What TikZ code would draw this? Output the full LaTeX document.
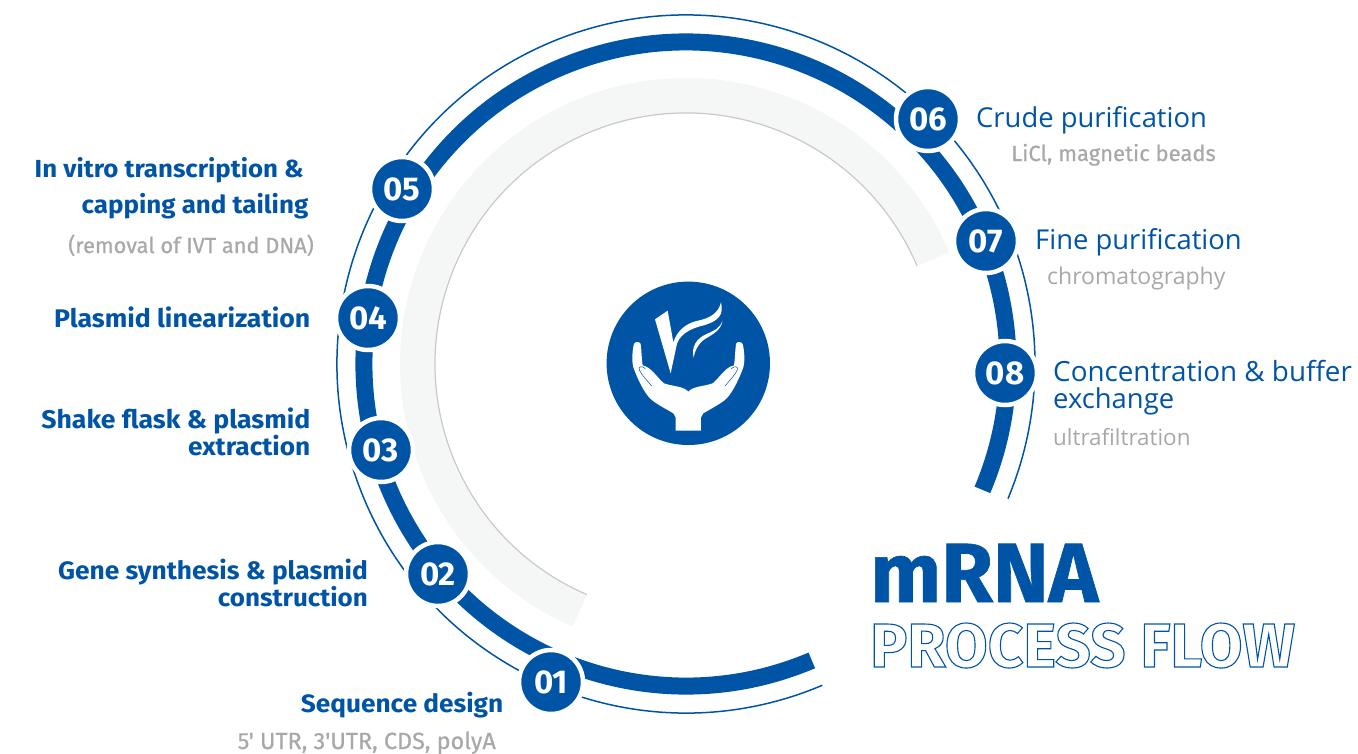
\documentclass[tikz,border=0pt]{standalone}
\usepackage{fontspec}
\setmainfont{Fira Sans}
\newfontfamily\dinf{Fira Sans}
\newfontfamily\dinwide{Fira Sans}[FakeStretch=1.045]
\newfontfamily\dinmute{Fira Sans}[FakeBold=0.6]
\newfontfamily\dinheavy{Fira Sans}[FakeBold=0.8]
\newfontfamily\segf{Open Sans}
\definecolor{brand}{HTML}{0054A6}
\definecolor{mutetext}{HTML}{A8A8A8}
\definecolor{band}{HTML}{F5F7F6}
\definecolor{bandline}{HTML}{C9C9C9}
\newcommand{\boldsz}[1]{\dinwide\bfseries\fontsize{#1}{27}\selectfont}
\newcommand{\mutesz}[1]{\dinmute\fontsize{#1}{27}\selectfont}
\newcommand{\lightsz}[1]{\segf\fontsize{#1}{27}\selectfont}
\tikzset{
  x=1pt,y=-1pt,
  badge/.style={circle,fill=brand,draw=white,line width=4.5pt,minimum size=64pt,inner sep=0pt,text=white,font=\dinf\bfseries\fontsize{33}{33}\selectfont},
  boldlabel/.style={anchor=base east,text=brand,inner sep=0pt,font=\boldsz{25.5}},
  mutelabel/.style={anchor=base east,inner sep=0pt,text=mutetext,font=\mutesz{22}},
  lightlabel/.style={anchor=base west,inner sep=0pt,text=brand,font=\lightsz{27.4}},
  mutelight/.style={anchor=base west,inner sep=0pt,text=mutetext,font=\lightsz{23}},
}
\begin{document}
\begin{tikzpicture}
\useasboundingbox (0,0) rectangle (1358,753);
\coordinate (c) at (686,364);
% grey band
\draw[band,line width=35pt] ([shift={(113.3:268.5)}]c) arc (113.3:337:268.5);
\draw[bandline,line width=1.2pt] ([shift={(113.3:251)}]c) arc (113.3:337:251);
% rings
\draw[brand,line width=1.5pt] ([shift={(67:349)}]c) arc (67:382.7:349);
\draw[brand,line width=17pt] ([shift={(67:322)}]c) arc (67:383:322);
% badges
\node[badge] (n1) at (551,682) {01};
\node[badge] (n2) at (438,574) {02};
\node[badge] (n3) at (381,450) {03};
\node[badge] (n4) at (368,318) {04};
\node[badge] (n5) at (402,189) {05};
\node[badge] (n6) at (928,119) {06};
\node[badge] (n7) at (986,241) {07};
\node[badge] (n8) at (1005,373) {08};
% logo
\fill[brand] (688.3,363.3) circle (81.7);
\begin{scope}[shift={(590,280)},x=0.3333pt,y=-0.3333pt]
\fill[white] (195,118) -- (233,92) -- (250,187)
  .. controls (262,150) and (290,130) .. (320,123)
  .. controls (360,115) and (385,100) .. (393,67)
  .. controls (402,105) and (385,122) .. (345,135)
  .. controls (300,145) and (262,165) .. (258,205)
  -- (242,280) -- cycle;
\fill[white] (397,122)
  .. controls (395,150) and (365,165) .. (345,177)
  .. controls (325,190) and (315,210) .. (311,233)
  .. controls (303,200) and (320,175) .. (350,162)
  .. controls (375,150) and (390,145) .. (397,122) -- cycle;
\fill[white] (257,452) -- (257,412) -- (250,400)
  .. controls (225,385) and (195,370) .. (180,355)
  .. controls (160,335) and (140,290) .. (130,262)
  .. controls (124,240) and (128,205) .. (132,192)
  .. controls (135,184) and (150,184) .. (152,192)
  .. controls (155,215) and (155,240) .. (158,256)
  .. controls (185,262) and (200,292) .. (222,310)
  .. controls (250,320) and (280,318) .. (295,335)
  .. controls (310,318) and (340,320) .. (368,310)
  .. controls (390,292) and (405,262) .. (432,256)
  .. controls (435,240) and (435,215) .. (438,192)
  .. controls (440,184) and (455,184) .. (458,192)
  .. controls (462,205) and (466,240) .. (460,262)
  .. controls (450,290) and (430,335) .. (410,355)
  .. controls (395,370) and (365,385) .. (340,400)
  -- (333,412) -- (333,452) -- cycle;
\draw[brand,line width=0.5pt] (185,318) .. controls (170,300) and (155,285) .. (148,270) .. controls (144,260) and (155,256) .. (166,266);
\draw[brand,line width=0.5pt] (405,318) .. controls (420,300) and (435,285) .. (442,270) .. controls (446,260) and (435,256) .. (424,266);
\end{scope}
% left labels
\node[boldlabel,font=\boldsz{24.7}] (l5a) at (304,177) {In vitro transcription \&};
\node[boldlabel,font=\boldsz{24.85}] (l5b) at (308.5,213) {capping and tailing};
\node[mutelabel,font=\mutesz{21.8}] (l5c) at (314,253) {(removal of IVT and DNA)};
\node[boldlabel] (l4) at (310.5,327) {Plasmid linearization};
\node[boldlabel] (l3a) at (310.5,428) {Shake flask \& plasmid};
\node[boldlabel,font=\boldsz{25.1}] (l3b) at (310.5,455) {extraction};
\node[boldlabel,font=\boldsz{25.2}] (l2a) at (368,579) {Gene synthesis \& plasmid};
\node[boldlabel,font=\boldsz{24.85}] (l2b) at (368,606) {construction};
\node[boldlabel,font=\boldsz{25.1}] (l1) at (503.5,712) {Sequence design};
\node[mutelabel,font=\mutesz{23.4}] (l1b) at (496,749) {5' UTR, 3'UTR, CDS, polyA};
% right labels
\node[lightlabel] (r6) at (976,127) {Crude purification};
\node[mutelabel] (r6b) at (1216,161) {LiCl, magnetic beads};
\node[lightlabel] (r7) at (1035,249) {Fine purification};
\node[mutelight] (r7b) at (1047,284) {chromatography};
\node[lightlabel,font=\lightsz{27.8}] (r8a) at (1053,381) {Concentration \& buffer};
\node[lightlabel] (r8b) at (1053,408) {exchange};
\node[mutelight,font=\lightsz{22.4}] (r8c) at (1053,445) {ultrafiltration};
% title
\node[anchor=base west,inner sep=0pt,text=brand,font=\dinheavy\bfseries\fontsize{84}{84}\selectfont] (t1) at (870,602) {mRNA};
\node[anchor=base west,inner sep=0pt,text=white,font=\dinf\bfseries\fontsize{62}{62}\selectfont] (t2) at (870,667) {\special{pdf:code q 1 Tr 1.1 w 0 0.33 0.65 RG}PROCESS FLOW\special{pdf:code 0 Tr Q}};
\end{tikzpicture}
\end{document}
